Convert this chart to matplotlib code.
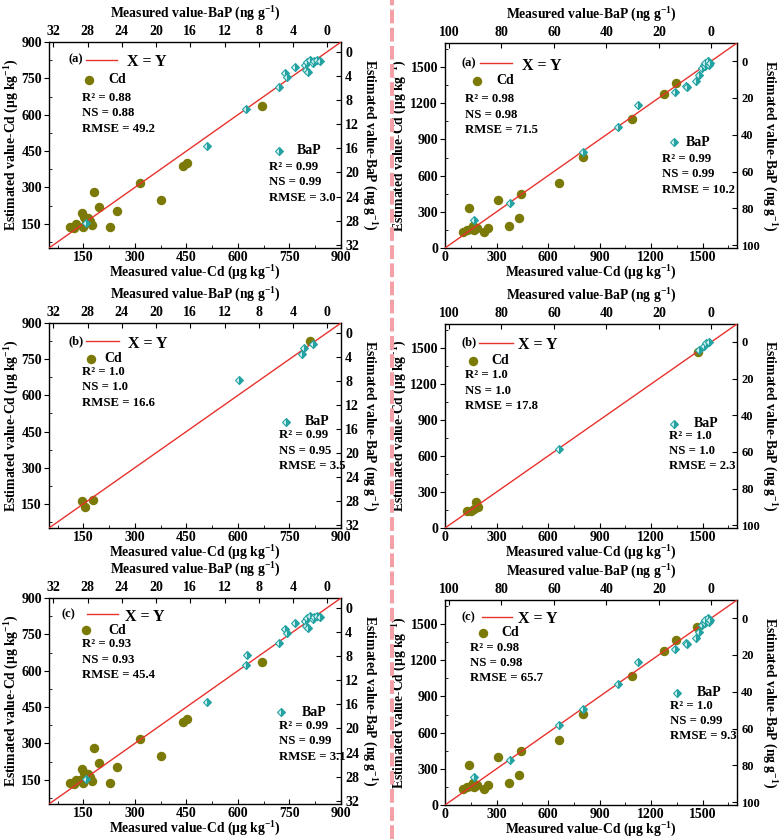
import matplotlib
matplotlib.use('Agg')
import matplotlib.pyplot as plt
from matplotlib.lines import Line2D
from matplotlib.ticker import MultipleLocator

plt.rcParams.update({
    'font.family': ['Liberation Serif', 'DejaVu Serif'],
    'font.weight': 'bold',
    'axes.labelweight': 'bold',
    'mathtext.fontset': 'custom',
    'mathtext.rm': 'Liberation Serif:bold',
    'mathtext.it': 'Liberation Serif:bold',
    'mathtext.bf': 'Liberation Serif:bold',
    'axes.linewidth': 1.0,
})

# ---------------- data ----------------
# Left column (small range)
cd_meas_aL = [111, 124, 130, 145, 148, 153, 158, 163, 168, 174, 182, 196, 228, 247, 316, 376, 441, 452, 669]
cd_est_aL  = [138, 134, 148, 194, 138, 178, 163, 172, 160, 145, 282, 218, 138, 204, 319, 249, 389, 400, 636]
bap_meas_aL = [28.2, 14.0, 9.5, 5.6, 4.9, 4.7, 3.8, 2.6, 2.5, 2.4, 2.2, 2.0, 1.7, 1.5, 1.2, 0.9]
bap_est_aL  = [28.3, 15.6, 9.5, 5.9, 3.6, 4.2, 2.6, 2.2, 3.0, 1.7, 3.3, 1.4, 1.9, 1.5, 1.3, 1.5]

cd_meas_bL = [145, 155, 178, 809]
cd_est_bL  = [164, 139, 166, 824]
bap_meas_bL = [10.3, 3.0, 2.7, 1.7]
bap_est_bL  = [7.9, 3.5, 2.5, 1.9]

cd_meas_cL = [111, 124, 130, 140, 145, 148, 153, 158, 160, 163, 168, 174, 182, 196, 228, 247, 316, 376, 441, 452, 669]
cd_est_cL  = [138, 134, 148, 150, 194, 138, 178, 163, 160, 172, 160, 145, 282, 218, 138, 204, 319, 249, 389, 400, 636]
bap_meas_cL = [28.2, 14.0, 9.5, 9.4, 5.6, 4.9, 4.7, 3.8, 2.6, 2.5, 2.4, 2.2, 2.0, 1.7, 1.5, 1.2, 0.9]
bap_est_cL  = [28.3, 15.6, 9.5, 7.8, 5.9, 3.6, 4.2, 2.6, 2.2, 3.0, 1.7, 3.3, 1.4, 1.9, 1.5, 1.3, 1.5]

# Right column (large range)
cd_meas_aR = [106, 126, 149, 164, 170, 184, 139, 226, 248, 310, 372, 433, 445, 664, 803, 1087, 1273, 1345]
cd_est_aR  = [132, 151, 157, 179, 146, 168, 333, 132, 165, 399, 184, 250, 446, 542, 757, 1070, 1280, 1368]
bap_meas_aR = [90.4, 76.7, 49.0, 35.6, 28.1, 14.0, 9.7, 9.3, 5.7, 4.6, 3.6, 2.9, 2.3, 1.6, 1.0, 1.3, 0.4, 2.3]
bap_est_aR  = [86.5, 77.3, 49.4, 36.0, 23.9, 17.0, 13.4, 14.1, 11.0, 7.4, 3.8, 2.0, 2.9, 1.1, 2.0, 0.2, 1.1, 1.1]

cd_meas_bR = [126, 150, 169, 190, 181, 1471]
cd_est_bR  = [139, 144, 158, 172, 214, 1468]
bap_meas_bR = [57.9, 4.8, 2.9, 2.0, 1.0]
bap_est_bR  = [58.2, 4.2, 2.4, 0.6, 0.2]

cd_meas_cR = cd_meas_aR + [1470]
cd_est_cR  = cd_est_aR + [1480]
bap_meas_cR = bap_meas_aR + [58.0]
bap_est_cR  = bap_est_aR + [58.0]

panel_labels = ['(a)', '(a)', '(b)', '(b)', '(c)', '(c)']
cd_stats = [('0.88', '0.88', '49.2'), ('0.98', '0.98', '71.5'),
            ('1.0', '1.0', '16.6'), ('1.0', '1.0', '17.8'),
            ('0.93', '0.93', '45.4'), ('0.98', '0.98', '65.7')]
bap_stats = [('0.99', '0.99', '3.0'), ('0.99', '0.99', '10.2'),
             ('0.99', '0.95', '3.5'), ('1.0', '1.0', '2.3'),
             ('0.99', '0.99', '3.1'), ('1.0', '0.99', '9.3')]

# ---------------- style / layout ----------------
CD_COLOR = '#7b7a08'
BAP_COLOR = '#25a3a3'
BAP_ALT = '#d8f2f2'
LINE_COLOR = '#e8322d'

W, H = 784, 839
def rect(x0, y0, x1, y1):
    return [x0 / W, 1 - y1 / H, (x1 - x0) / W, (y1 - y0) / H]

rects = [rect(49, 42, 341, 248), rect(445, 43, 737, 248),
         rect(49, 323, 341, 528), rect(445, 324, 737, 528),
         rect(49, 598, 341, 804), rect(445, 600, 737, 805)]

# layout: (label x, label y, line x0, line x1, XY x,
#          cd marker x, cd marker y, cd text x, stats x, stats y0,
#          bap marker x, bap marker y, bap text x, bstats x, bstats y0)
lay = [
    (0.066, 0.914, 0.127, 0.232, 0.266, 0.138, 0.817, 0.203, 0.112, 0.730, 0.786, 0.471, 0.849, 0.755, 0.394),
    (0.057, 0.902, 0.120, 0.229, 0.263, 0.109, 0.816, 0.177, 0.069, 0.726, 0.783, 0.517, 0.823, 0.743, 0.434),
    (0.066, 0.910, 0.127, 0.240, 0.272, 0.143, 0.825, 0.190, 0.112, 0.762, 0.810, 0.518, 0.877, 0.786, 0.452),
    (0.057, 0.908, 0.117, 0.234, 0.251, 0.097, 0.820, 0.160, 0.069, 0.748, 0.783, 0.511, 0.851, 0.766, 0.452),
    (0.043, 0.920, 0.130, 0.238, 0.260, 0.127, 0.843, 0.203, 0.112, 0.775, 0.795, 0.445, 0.866, 0.786, 0.380),
    (0.057, 0.918, 0.126, 0.229, 0.251, 0.131, 0.840, 0.194, 0.086, 0.768, 0.794, 0.548, 0.863, 0.771, 0.485),
]

small = dict(cdlim=(50, 900), cdmaj=150, cdmin=75, blim=(32.5, -1.6), bmaj=4, bmin=2,
             ylpad=0.5, rlpad=14, rsize=10)
large = dict(cdlim=(0, 1700), cdmaj=300, cdmin=150, blim=(101.5, -9.8), bmaj=20, bmin=10,
             ylpad=1, rlpad=13, rsize=9)
scales = [small, large, small, large, small, large]

cd_x = [cd_meas_aL, cd_meas_aR, cd_meas_bL, cd_meas_bR, cd_meas_cL, cd_meas_cR]
cd_y = [cd_est_aL, cd_est_aR, cd_est_bL, cd_est_bR, cd_est_cL, cd_est_cR]
b_x = [bap_meas_aL, bap_meas_aR, bap_meas_bL, bap_meas_bR, bap_meas_cL, bap_meas_cR]
b_y = [bap_est_aL, bap_est_aR, bap_est_bL, bap_est_bR, bap_est_cL, bap_est_cR]

fig = plt.figure(figsize=(W / 100, H / 100), dpi=100)

cd_kw = dict(marker='o', ms=5.8, color=CD_COLOR, mec=CD_COLOR, ls='none')
bap_kw = dict(marker='D', ms=4.5, color=BAP_COLOR, mfc=BAP_COLOR, mfcalt=BAP_ALT,
              fillstyle='right', mec=BAP_COLOR, mew=0.8, ls='none')
LFS = 9.8

for i in range(6):
    sc = scales[i]
    L = lay[i]
    ax = fig.add_axes(rects[i])
    ax2 = fig.add_axes(rects[i], facecolor='none')

    ax.set_xlim(*sc['cdlim'])
    ax.set_ylim(*sc['cdlim'])
    for a in (ax.xaxis, ax.yaxis):
        a.set_major_locator(MultipleLocator(sc['cdmaj']))
        a.set_minor_locator(MultipleLocator(sc['cdmin']))
    ax.tick_params(axis='x', which='major', direction='in', length=3.5, top=False, labelsize=10, pad=2)
    ax.tick_params(axis='x', which='minor', direction='in', length=2, top=False)
    ax.tick_params(axis='y', which='major', direction='out', length=3.5, right=False, labelsize=10, pad=1.5)
    ax.tick_params(axis='y', which='minor', direction='in', length=2, right=False)

    ax2.set_xlim(*sc['blim'])
    ax2.set_ylim(*sc['blim'])
    for a in (ax2.xaxis, ax2.yaxis):
        a.set_major_locator(MultipleLocator(sc['bmaj']))
        a.set_minor_locator(MultipleLocator(sc['bmin']))
    ax2.xaxis.tick_top()
    ax2.xaxis.set_label_position('top')
    ax2.yaxis.tick_right()
    ax2.yaxis.set_label_position('right')
    ax2.tick_params(axis='x', which='major', direction='in', length=3.5, labelsize=10, pad=3)
    ax2.tick_params(axis='y', which='major', direction='in', length=3.5, labelsize=sc['rsize'], pad=3)
    ax2.tick_params(axis='both', which='minor', direction='in', length=0)
    for s in ax2.spines.values():
        s.set_visible(False)

    # reference line X = Y
    ax.axline((0, 0), (1, 1), color=LINE_COLOR, lw=1.0, zorder=3)
    ax.plot(cd_x[i], cd_y[i], zorder=2, **cd_kw)
    ax2.plot(b_x[i], b_y[i], zorder=4, **bap_kw)

    ax.set_xlabel('Measured value-Cd (μg kg$^{-1}$)', fontsize=LFS, labelpad=0)
    ax.set_ylabel('Estimated value-Cd (μg kg$^{-1}$)', fontsize=LFS, labelpad=sc['ylpad'])
    ax2.set_xlabel('Measured value-BaP (ng g$^{-1}$)', fontsize=LFS, labelpad=5)
    ax2.set_ylabel('Estimated value-BaP (ng g$^{-1}$)', fontsize=LFS, rotation=270,
                   labelpad=sc['rlpad'])

    T = ax.transAxes
    ax.text(L[0], L[1], panel_labels[i], transform=T, fontsize=9, va='center', ha='left')
    ax.plot([L[2], L[3]], [L[1], L[1]], transform=T, color=LINE_COLOR, lw=1.0)
    ax.text(L[4], L[1] - 0.012, 'X = Y', transform=T, fontsize=11.5, va='center', ha='left')

    ax.plot([L[5]], [L[6]], transform=T, **cd_kw)
    ax.text(L[7], L[6], 'Cd', transform=T, fontsize=10, va='center', ha='left')
    r2, ns, rm = cd_stats[i]
    for k, s in enumerate(['R² = ' + r2, 'NS = ' + ns, 'RMSE = ' + rm]):
        ax.text(L[8], L[9] - 0.075 * k, s, transform=T, fontsize=9.2, va='center', ha='left')

    ax2.plot([L[10]], [L[11]], transform=ax2.transAxes, clip_on=False, **bap_kw)
    ax2.text(L[12], L[11], 'BaP', transform=ax2.transAxes, fontsize=10, va='center', ha='left')
    r2, ns, rm = bap_stats[i]
    for k, s in enumerate(['R² = ' + r2, 'NS = ' + ns, 'RMSE = ' + rm]):
        ax2.text(L[13], L[14] - 0.075 * k, s, transform=ax2.transAxes, fontsize=9.2,
                 va='center', ha='left')

# central dashed separator
fig.add_artist(Line2D([0.5, 0.5], [0.0, 1.0], transform=fig.transFigure,
                      color='#f5a0a6', lw=2.9, dashes=(3.4, 1.1)))

fig.savefig('out.png', dpi=100)
